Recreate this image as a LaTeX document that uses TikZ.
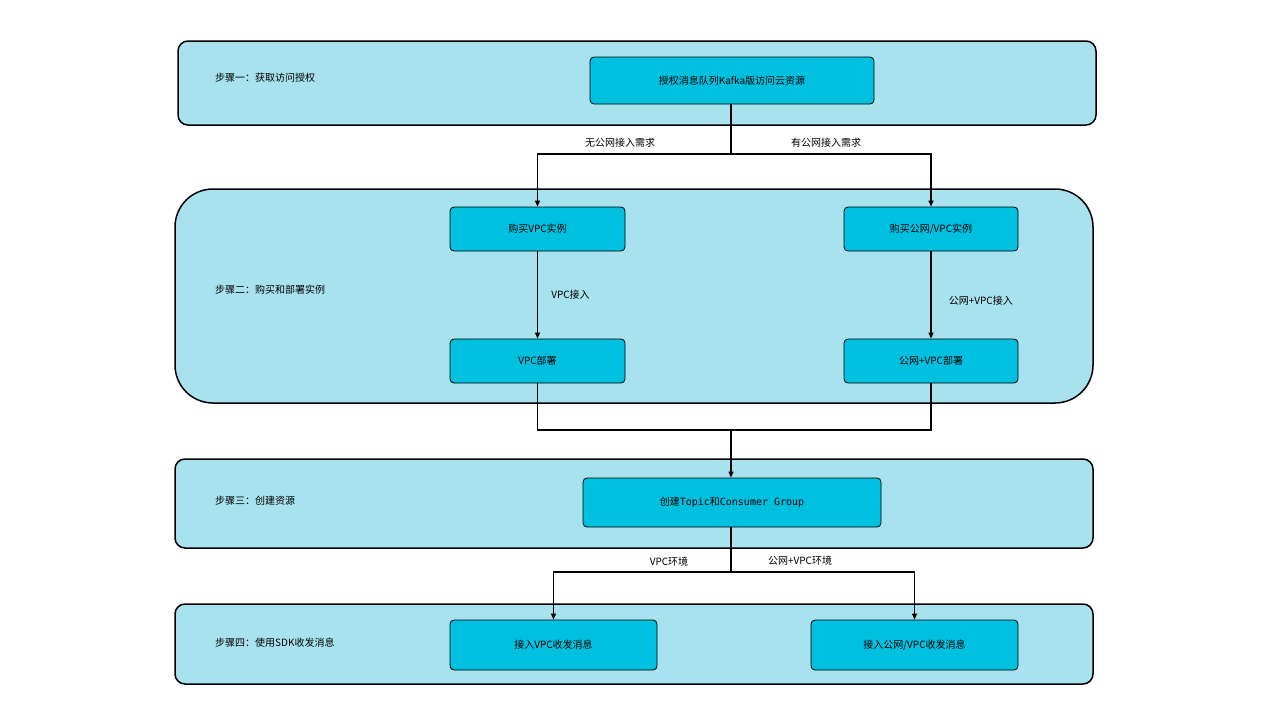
\documentclass[tikz,border=0pt]{standalone}
\usepackage{fontspec}
\setmainfont{Noto Sans CJK SC}
\newfontfamily\monof{DejaVu Sans Mono}
\usetikzlibrary{arrows.meta}
\definecolor{lightc}{HTML}{A8E2EF}
\definecolor{innerc}{HTML}{00C0E0}
\begin{document}
\begin{tikzpicture}[x=1pt,y=-1pt,font=\fontsize{10}{12}\selectfont,
  big/.style={draw=black,line width=1.5pt,fill=lightc,rounded corners=10pt},
  box/.style={draw=black,line width=0.8pt,fill=innerc,rounded corners=4pt,inner sep=0pt},
  ln/.style={line width=1.5pt},
  ar/.style={ln,-{Triangle[length=6pt,width=5pt]}},
  lab/.style={inner sep=1pt}]
\useasboundingbox (0,0) rectangle (1280,720);
\draw[big] (178,41) rectangle (1096,125);
\draw[big,rounded corners=38pt] (175,189) rectangle (1093,403);
\draw[big] (175,459) rectangle (1093,548);
\draw[big] (175,604) rectangle (1093,684);
\node[lab,anchor=west] (s1) at (214,78) {步骤一：获取访问授权};
\node[lab,anchor=west] (s2) at (214,290) {步骤二：购买和部署实例};
\node[lab,anchor=west] (s3) at (214,501) {步骤三：创建资源};
\node[lab,anchor=west] (s4) at (214,643) {步骤四：使用SDK收发消息};
\node[box,minimum width=284pt,minimum height=47pt] (auth) at (732,80.5) {授权消息队列Kafka版访问云资源};
\node[box,minimum width=175pt,minimum height=44pt] (bv) at (537.5,229) {购买VPC实例};
\node[box,minimum width=174pt,minimum height=44pt] (bp) at (931,229) {购买公网/VPC实例};
\node[box,minimum width=175pt,minimum height=44pt] (dv) at (537.5,361) {VPC部署};
\node[box,minimum width=174pt,minimum height=44pt] (dp) at (931,361) {公网+VPC部署};
\node[box,minimum width=298pt,minimum height=49pt] (cr) at (732,502.5) {创建{\monof Topic}和{\monof Consumer Group}};
\node[box,minimum width=207pt,minimum height=50pt] (a1) at (553.5,645) {接入VPC收发消息};
\node[box,minimum width=207pt,minimum height=50pt] (a2) at (914.5,645) {接入公网/VPC收发消息};
\coordinate (j1) at (731,154);
\coordinate (j2) at (731,430);
\coordinate (j3) at (731,572);
\draw[ln] (auth.south -| j1) -- (j1);
\draw[ar] (j1) -| (bv.north);
\draw[ar] (j1) -| (bp.north);
\node[lab] (l1) at (620,143) {无公网接入需求};
\node[lab] (l2) at (826,143) {有公网接入需求};
\draw[ar] (bv) -- (dv) node[lab,midway,right=12pt] {VPC接入};
\draw[ar] (bp) -- (dp) node[lab,midway,right=16pt,yshift=-6pt] {公网+VPC接入};
\draw[ln] (dv.south) |- (j2) -| (dp.south);
\draw[ar] (j2) -- (cr.north -| j2);
\draw[ln] (cr.south -| j3) -- (j3);
\draw[ar] (j3) -| (a1.north);
\draw[ar] (j3) -| (a2.north);
\node[lab] (l3) at (669,562) {VPC环境};
\node[lab] (l4) at (800,561) {公网+VPC环境};
\end{tikzpicture}
\end{document}
